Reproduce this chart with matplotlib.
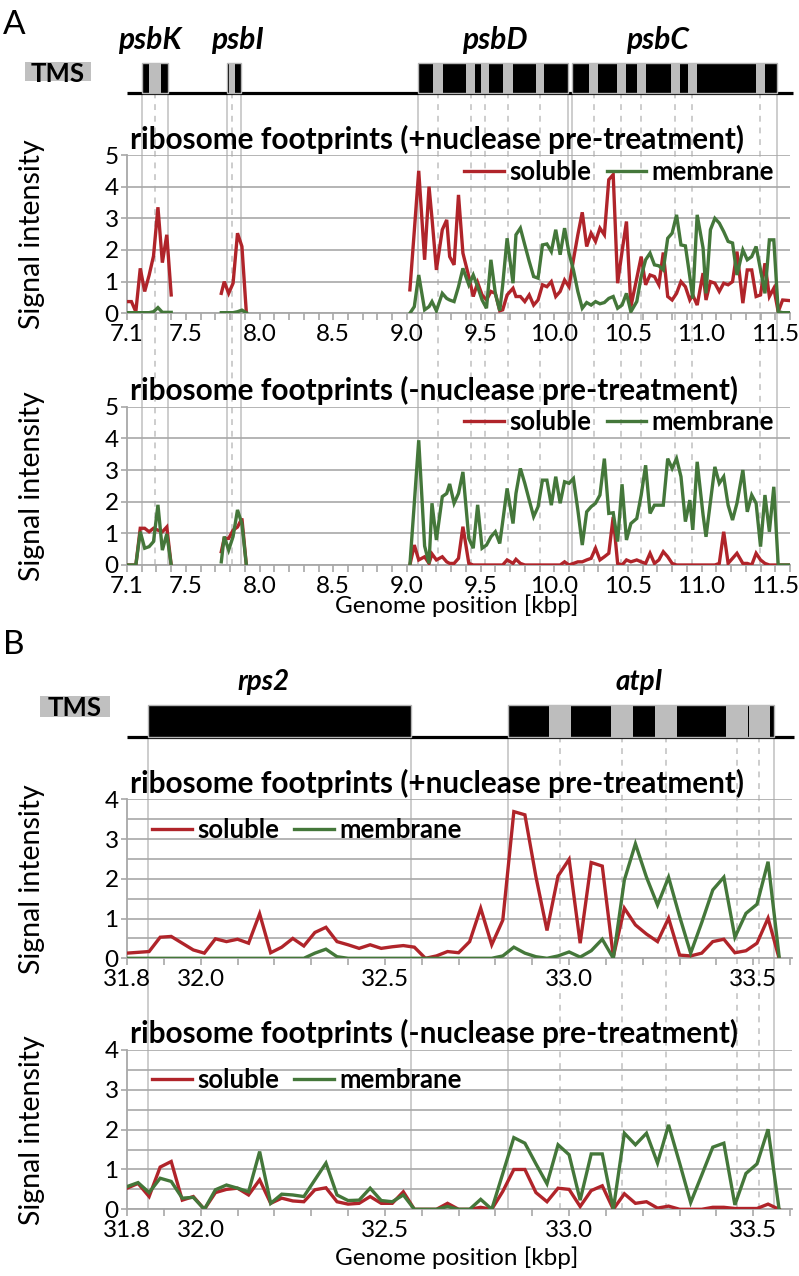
import matplotlib
matplotlib.use("Agg")
import matplotlib.pyplot as plt
from matplotlib.patches import Rectangle
from matplotlib.ticker import MultipleLocator
import matplotlib.transforms as mtransforms

plt.rcParams['font.family'] = ['Lato', 'DejaVu Sans']

W, H = 799, 1276
RED = '#b0242a'
GREEN = '#44773a'
GRID = '#a8a8a8'
VLINE = '#cdcdcd'

# ---------------- panel A data (genome position in kbp) ----------------
a_k_x = [7.10, 7.13, 7.16, 7.19, 7.22, 7.25, 7.28, 7.31, 7.34, 7.37, 7.40]
a_top_sol_k = [0.37, 0.37, 0.05, 1.42, 0.69, 1.2, 1.81, 3.35, 1.6, 2.48, 0.58]
a_top_mem_k = [0.02, 0.02, 0.02, 0.02, 0.02, 0.02, 0.05, 0.18, 0.03, 0.03, 0.03]
a_bot_sol_k = [0, 0, 0, 1.16, 1.16, 1.05, 1.16, 1.1, 1.05, 1.2, 0]
a_bot_mem_k = [0, 0, 0, 1.05, 0.53, 0.58, 0.74, 1.9, 0.47, 0.98, 0]

a_i_x = [7.74, 7.76, 7.79, 7.82, 7.85, 7.88, 7.91]
a_top_sol_i = [0.63, 1.0, 0.63, 0.95, 2.53, 2.11, 0.02]
a_top_mem_i = [0.02, 0.02, 0.02, 0.02, 0.05, 0.1, 0.02]
a_bot_sol_i = [0.42, 0.84, 0.84, 1.1, 1.2, 1.47, 0.0]
a_bot_mem_i = [0.1, 0.9, 0.47, 0.9, 1.74, 1.3, 0.0]

a_dc_x = [9.02, 9.05, 9.08, 9.12, 9.15, 9.17, 9.20, 9.24, 9.27, 9.29,
          9.32, 9.35, 9.38, 9.42, 9.45, 9.48, 9.51, 9.54, 9.57, 9.60,
          9.63, 9.65, 9.68, 9.72, 9.74, 9.77, 9.80, 9.83, 9.86, 9.89,
          9.92, 9.95, 9.98, 10.01, 10.04, 10.07, 10.10, 10.13, 10.16, 10.19,
          10.22, 10.25, 10.28, 10.31, 10.34, 10.37, 10.40, 10.43, 10.46, 10.49,
          10.52, 10.56, 10.59, 10.62, 10.65, 10.68, 10.71, 10.74, 10.77, 10.80,
          10.83, 10.86, 10.89, 10.92, 10.94, 10.97, 11.01, 11.03, 11.06, 11.09,
          11.12, 11.15, 11.18, 11.21, 11.24, 11.28, 11.31, 11.34, 11.37, 11.40,
          11.43, 11.46, 11.49, 11.52, 11.55, 11.60]
a_top_sol_dc = [0.74, 2.6, 4.5, 1.69, 4.0, 3.0, 1.37, 2.64, 2.95, 1.79,
                1.53, 3.74, 1.9, 1.16, 0.53, 0.97, 0.58, 0.42, 0.69, 0.63,
                0.08, 0.11, 0.58, 0.79, 0.53, 0.53, 0.37, 0.58, 0.26, 0.42,
                0.90, 0.84, 1.0, 0.53, 0.69, 1.05, 0.84, 1.69, 2.48, 3.19,
                2.11, 2.53, 2.27, 2.69, 2.48, 4.22, 4.38, 0.95, 1.95, 2.9,
                0.21, 1.11, 1.79, 0.90, 1.21, 1.16, 0.90, 1.92, 0.53, 0.42,
                0.63, 1.0, 0.84, 0.42, 0.58, 0.26, 1.27, 0.42, 1.0, 0.95,
                0.69, 0.95, 0.90, 1.0, 1.95, 0.32, 1.37, 1.37, 0.53, 0.58,
                1.58, 0.53, 0.79, 0.05, 0.42, 0.40]
a_top_mem_dc = [0.0, 0.21, 1.21, 0.11, 0.21, 0.37, 0.08, 0.63, 0.47, 0.42,
                0.37, 0.84, 1.42, 0.90, 1.21, 0.84, 0.42, 0.16, 1.69, 0.63,
                0.08, 0.90, 2.37, 0.95, 2.48, 2.69, 2.16, 1.64, 1.16, 1.11,
                2.16, 2.19, 1.95, 2.64, 1.85, 2.69, 1.9, 1.37, 0.69, 0.16,
                0.34, 0.26, 0.37, 0.30, 0.34, 0.47, 0.53, 0.16, 0.26, 0.63,
                0.05, 0.37, 1.16, 1.69, 1.9, 1.53, 1.50, 1.37, 2.37, 2.53,
                3.11, 2.16, 2.13, 1.16, 0.47, 3.11, 2.06, 0.63, 2.64, 3.0,
                2.85, 2.58, 2.27, 2.22, 1.21, 2.0, 1.69, 1.79, 2.11, 1.37,
                0.63, 2.32, 2.32, 0.05, 0.02, 0.02]
a_bot_sol_dc = [0, 0.63, 0.16, 0.26, 0.05, 0.35, 0.16, 0.26, 0.1, 0.05,
                0.05, 0.21, 1.21, 0.05, 0, 0, 0, 0, 0, 0,
                0, 0, 0.16, 0.05, 0.18, 0.05, 0, 0, 0, 0,
                0, 0, 0, 0, 0, 0.1, 0, 0.05, 0.1, 0.1,
                0.16, 0.21, 0.53, 0.16, 0.26, 0.37, 1.52, 0.05, 0, 0.16,
                0.1, 0.16, 0.1, 0.05, 0.37, 0.05, 0.16, 0.42, 0.26, 0.05,
                0, 0, 0, 0, 0, 0, 0, 0, 0, 0,
                0.05, 1.05, 0.05, 0.21, 0.37, 0.05, 0.05, 0, 0.37, 0.16,
                0.05, 0, 0, 0, 0, 0]
a_bot_mem_dc = [0, 1.95, 3.94, 0.6, 0.05, 1.95, 0.79, 2.16, 2.26, 2.56,
                1.95, 2.26, 2.94, 0.84, 0.53, 1.9, 0.53, 0.63, 0.89, 1.05,
                0.68, 1.37, 2.42, 1.31, 2.26, 3.05, 2.58, 2.05, 1.53, 1.84,
                2.68, 2.68, 1.89, 2.79, 1.95, 2.63, 2.58, 2.73, 1.74, 0.63,
                1.68, 1.84, 1.95, 2.21, 3.36, 1.63, 1.65, 0.74, 2.55, 0.79,
                1.31, 1.47, 2.21, 3.15, 1.63, 1.89, 1.89, 1.89, 3.36, 3.05,
                3.36, 2.79, 1.37, 2.05, 1.11, 3.26, 1.58, 0.89, 2.0, 3.1,
                2.58, 2.79, 1.89, 1.42, 1.95, 3.0, 1.68, 2.21, 1.95, 0.58,
                2.21, 1.05, 2.47, 0, 0, 0]

# genes of panel A: name, start, end, transmembrane segments
a_genes = ['psbK', 'psbI', 'psbD', 'psbC']
a_gene_start = [7.20, 7.777, 9.078, 10.121]
a_gene_end = [7.376, 7.872, 10.094, 11.511]
a_gene_label_x = [7.256, 7.847, 9.598, 10.698]
a_tms = [[(7.252, 7.328)],
         [(7.79, 7.836)],
         [(9.179, 9.243), (9.401, 9.462), (9.503, 9.560), (9.655, 9.718), (9.877, 9.931)],
         [(10.238, 10.300), (10.424, 10.488), (10.560, 10.621), (10.791, 10.850),
          (10.906, 10.968), (11.368, 11.430)]]
a_xticks = [7.1, 7.5, 8.0, 8.5, 9.0, 9.5, 10.0, 10.5, 11.0, 11.5]
a_xticklabels = ['7.1', '7.5', '8.0', '8.5', '9.0', '9.5', '10.0', '10.5', '11.0', '11.5']

# ---------------- panel B data ----------------
b_x = [31.80, 31.83, 31.86, 31.89, 31.92, 31.95, 31.98, 32.01, 32.04, 32.07,
       32.10, 32.13, 32.16, 32.19, 32.22, 32.25, 32.28, 32.31, 32.34, 32.37,
       32.40, 32.43, 32.46, 32.49, 32.52, 32.55, 32.58, 32.61, 32.64, 32.67,
       32.70, 32.73, 32.76, 32.79, 32.82, 32.85, 32.88, 32.91, 32.94, 32.97,
       33.00, 33.03, 33.06, 33.09, 33.12, 33.15, 33.18, 33.21, 33.24, 33.27,
       33.30, 33.33, 33.36, 33.39, 33.42, 33.45, 33.48, 33.51, 33.54, 33.57]
b_top_sol = [0.13, 0.15, 0.17, 0.53, 0.55, 0.38, 0.21, 0.13, 0.49, 0.42,
             0.48, 0.38, 1.12, 0.14, 0.28, 0.50, 0.31, 0.65, 0.78, 0.42,
             0.34, 0.25, 0.34, 0.25, 0.29, 0.32, 0.28, 0.0, 0.06, 0.17,
             0.14, 0.42, 1.26, 0.34, 0.96, 3.69, 3.61, 2.05, 0.70, 2.07,
             2.49, 0.38, 2.41, 2.32, 0.04, 1.26, 0.84, 0.61, 0.42, 1.01,
             0.08, 0.06, 0.13, 0.42, 0.48, 0.14, 0.19, 0.38, 1.01, 0.0]
b_top_mem = [0, 0, 0, 0, 0, 0, 0, 0, 0, 0,
             0, 0, 0, 0, 0, 0, 0, 0.13, 0.23, 0.04,
             0, 0, 0, 0, 0, 0, 0, 0, 0, 0,
             0, 0, 0, 0, 0.06, 0.28, 0.13, 0.04, 0, 0.06,
             0.16, 0.03, 0.19, 0.48, 0, 1.97, 2.88, 2.04, 1.34, 2.04,
             1.05, 0.13, 0.9, 1.72, 2.04, 0.53, 1.13, 1.36, 2.43, 0.05]
b_bot_sol = [0.53, 0.65, 0.32, 1.06, 1.2, 0.23, 0.32, 0.0, 0.42, 0.5,
             0.53, 0.36, 0.74, 0.15, 0.28, 0.21, 0.19, 0.49, 0.54, 0.19,
             0.13, 0.15, 0.32, 0.15, 0.15, 0.44, 0.0, 0.0, 0.0, 0.15,
             0.0, 0.0, 0.05, 0.0, 0.45, 1.0, 1.0, 0.42, 0.19, 0.53,
             0.5, 0.07, 0.47, 0.59, 0.0, 0.39, 0.15, 0.19, 0.03, 0.08,
             0.0, 0.0, 0.0, 0.05, 0.05, 0.02, 0.02, 0.02, 0.13, 0.0]
b_bot_mem = [0.57, 0.67, 0.42, 0.78, 0.7, 0.28, 0.3, 0.0, 0.49, 0.61,
             0.53, 0.44, 1.45, 0.15, 0.38, 0.36, 0.32, 0.74, 1.16, 0.36,
             0.22, 0.23, 0.53, 0.22, 0.19, 0.36, 0.0, 0.0, 0.0, 0.07,
             0.0, 0.0, 0.25, 0.0, 0.9, 1.8, 1.66, 1.14, 0.64, 1.62,
             1.37, 0.23, 1.39, 1.39, 0.0, 1.91, 1.62, 1.91, 1.16, 2.12,
             1.16, 0.17, 0.86, 1.56, 1.66, 0.11, 0.9, 1.14, 2.01, 0.0]

b_genes = ['rps2', 'atpI']
b_gene_start = [31.856, 32.833]
b_gene_end = [32.572, 33.555]
b_gene_label_x = [32.17, 33.19]
b_tms = [[],
         [(32.945, 33.006), (33.114, 33.174), (33.232, 33.292), (33.425, 33.486),
          (33.488, 33.545)]]
b_xticks = [31.8, 32.0, 32.5, 33.0, 33.5]
b_xticklabels = ['31.8', '32.0', '32.5', '33.0', '33.5']


def px_box(x0, y0, x1, y1):
    return [x0 / W, 1 - y1 / H, (x1 - x0) / W, (y1 - y0) / H]


fig = plt.figure(figsize=(W / 100, H / 100), dpi=100)


def tms_key(x0, y0, x1, y1):
    fig.patches.append(Rectangle((x0 / W, 1 - y1 / H), (x1 - x0) / W, (y1 - y0) / H,
                                 transform=fig.transFigure, fc='#c0c0c0', ec='none'))
    fig.text((x0 + x1) / 2 / W, 1 - (y0 + y1) / 2 / H, 'TMS', fontsize=18.5,
             fontweight='bold', ha='center', va='center_baseline')


def gene_lines(ax, starts, ends, tms):
    for s, e in zip(starts, ends):
        ax.axvline(s, color=VLINE, lw=1.4)
        ax.axvline(e, color=VLINE, lw=1.4)
    for segs in tms:
        for s, e in segs:
            ax.axvline((s + e) / 2, color=VLINE, lw=1.4, ls=(0, (3, 3)))


def gene_track(box, xlim, line_end, starts, ends, tms, names, label_x, label_y, label_size):
    ax = fig.add_axes(px_box(*box))
    ax.set_xlim(*xlim)
    ax.set_ylim(0, 1)
    ax.axis('off')
    ax.plot([xlim[0], line_end], [0, 0], color='black', lw=2.3, clip_on=False,
            solid_capstyle='butt', zorder=1)
    for s, e in zip(starts, ends):
        ax.add_patch(Rectangle((s, 0), e - s, 1, fc='black', ec='#b5b5b5', lw=1.0,
                               clip_on=False, zorder=2))
    for segs in tms:
        for s, e in segs:
            ax.add_patch(Rectangle((s, 0), e - s, 1, fc='#bdbdbd', ec='none',
                                   clip_on=False, zorder=3))
    tr = mtransforms.blended_transform_factory(ax.transData, fig.transFigure)
    for name, lx in zip(names, label_x):
        ax.text(lx, 1 - label_y / H, name, transform=tr, ha='center', va='baseline',
                fontsize=label_size, fontweight='bold', fontstyle='italic')
    return ax


def signal_axes(box, xlim, ylim, xticks, xticklabels, minor_y):
    ax = fig.add_axes(px_box(*box))
    ax.patch.set_alpha(0)
    ax.set_xlim(*xlim)
    ax.set_ylim(*ylim)
    for side in ['top', 'right']:
        ax.spines[side].set_visible(False)
    for side in ['left', 'bottom']:
        ax.spines[side].set_color(GRID)
        ax.spines[side].set_linewidth(1.3)
    ax.set_xticks(xticks)
    ax.set_xticklabels(xticklabels)
    ax.xaxis.set_minor_locator(MultipleLocator(0.1))
    ax.yaxis.set_major_locator(MultipleLocator(1))
    if minor_y:
        ax.yaxis.set_minor_locator(MultipleLocator(0.5))
        ax.tick_params(axis='y', which='minor', length=0)
    ax.grid(True, axis='y', which='both', color=GRID, lw=1.2)
    ax.set_axisbelow(True)
    ax.tick_params(axis='x', which='both', direction='out', length=5, width=1.2,
                   color=GRID, labelsize=17.5, pad=3)
    ax.tick_params(axis='y', which='major', direction='out', length=4, width=1.2,
                   color=GRID, labelsize=17.5, pad=2)
    ax.set_ylabel('Signal intensity', fontsize=20.5)
    ax.yaxis.set_label_coords(-(127 - 45) / (box[2] - box[0]), 0.5)
    return ax


def add_title_legend(ax, box, title, leg_loc, leg_anchor_px):
    fig.text(130 / W, 1 - (box[1] - 6.5) / H, title, ha='left', va='baseline',
             fontsize=21.4, fontweight='bold')
    handles = [plt.Line2D([], [], color=RED, lw=2.4), plt.Line2D([], [], color=GREEN, lw=2.4)]
    ax.legend(handles, ['soluble', 'membrane'], loc=leg_loc, ncol=2, frameon=False,
              bbox_to_anchor=(leg_anchor_px[0] / W, 1 - leg_anchor_px[1] / H),
              bbox_transform=fig.transFigure, borderpad=0, borderaxespad=0,
              handlelength=1.55, handletextpad=0.2, columnspacing=0.6,
              prop={'size': 18.5, 'weight': 'bold'})


# ---------------- panel A ----------------
a_xlim = (7.1, 11.6)
fig.text(3 / W, 1 - 25 / H, 'A', fontsize=24, ha='left', va='center')
tms_key(24.5, 62.3, 90.7, 81)

ov = fig.add_axes(px_box(127, 93.3, 790, 565))
ov.set_xlim(*a_xlim)
ov.axis('off')
ov.set_zorder(0)
gene_lines(ov, a_gene_start, a_gene_end, a_tms)

gene_track((127, 62.7, 790, 93.3), a_xlim, 11.62, a_gene_start, a_gene_end, a_tms,
           a_genes, a_gene_label_x, 49, 21.5)

a_boxes = [(127, 155, 790, 313.3), (127, 406.7, 790, 565)]
a_titles = ['ribosome footprints (+nuclease pre-treatment)',
            'ribosome footprints (-nuclease pre-treatment)']
a_series = [(a_top_sol_k, a_top_mem_k, a_top_sol_i, a_top_mem_i, a_top_sol_dc, a_top_mem_dc),
            (a_bot_sol_k, a_bot_mem_k, a_bot_sol_i, a_bot_mem_i, a_bot_sol_dc, a_bot_mem_dc)]
a_leg_y = [172, 421.7]
for box, title, ser, ly in zip(a_boxes, a_titles, a_series, a_leg_y):
    ax = signal_axes(box, a_xlim, (0, 5), a_xticks, a_xticklabels, False)
    ax.set_zorder(1)
    sk, mk, si, mi, sd, md = ser
    for xs, sol, mem in [(a_k_x, sk, mk), (a_i_x, si, mi), (a_dc_x, sd, md)]:
        ax.plot(xs, sol, color=RED, lw=2.4, solid_joinstyle='miter', zorder=3)
        ax.plot(xs, mem, color=GREEN, lw=2.4, solid_joinstyle='miter', zorder=3)
    add_title_legend(ax, box, title, 'center right', (774, ly))
fig.text(457 / W, 1 - 606 / H, 'Genome position [kbp]', fontsize=17.5, ha='center', va='center')

# ---------------- panel B ----------------
b_xlim = (31.8, 33.605)
fig.text(3 / W, 1 - 645 / H, 'B', fontsize=24, ha='left', va='center')
tms_key(40, 696, 110, 717)

ov = fig.add_axes(px_box(127, 737.3, 792, 1209.3))
ov.set_xlim(*b_xlim)
ov.axis('off')
ov.set_zorder(0)
gene_lines(ov, b_gene_start, b_gene_end, b_tms)

gene_track((127, 705, 792, 737.3), b_xlim, 33.61, b_gene_start, b_gene_end, b_tms,
           b_genes, b_gene_label_x, 690, 20)

b_boxes = [(127, 799.3, 792, 958.3), (127, 1050, 792, 1209.3)]
b_titles = a_titles
b_series = [(b_top_sol, b_top_mem), (b_bot_sol, b_bot_mem)]
b_leg_y = [830, 1080]
for box, title, ser, ly in zip(b_boxes, b_titles, b_series, b_leg_y):
    ax = signal_axes(box, b_xlim, (0, 4), b_xticks, b_xticklabels, True)
    ax.set_zorder(1)
    ax.plot(b_x, ser[0], color=RED, lw=2.4, solid_joinstyle='miter', zorder=3)
    ax.plot(b_x, ser[1], color=GREEN, lw=2.4, solid_joinstyle='miter', zorder=3)
    add_title_legend(ax, box, title, 'center left', (152, ly))
fig.text(457 / W, 1 - 1258 / H, 'Genome position [kbp]', fontsize=17.5, ha='center', va='center')

fig.savefig('out.png', dpi=100)
